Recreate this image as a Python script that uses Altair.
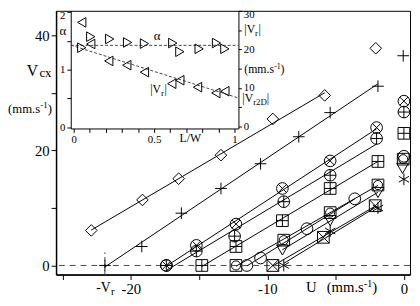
import altair as alt
import pandas as pd

SERIF = "Liberation Serif"

# ---------------- main chart data (U, Vcx) ----------------
series_names = ["diamond", "plus", "circle_x", "circle_plus", "square_plus",
                "square_circle", "circle", "tri_down", "square_x", "asterisk"]

diamond_u = [-22.9, -19.15, -16.5, -13.4, -9.6, -5.8]
diamond_v = [6.1, 11.4, 15.1, 19.2, 25.5, 29.6]
plus_u = [-21.9, -19.2, -16.3, -13.4, -10.5, -7.7, -5.4, -1.9]
plus_v = [0.0, 3.3, 9.1, 13.4, 17.7, 22.4, 26.6, 31.2]
circle_x_u = [-17.4, -15.2, -12.3, -8.9, -5.4, -2.0]
circle_x_v = [0.0, 3.5, 7.2, 13.4, 18.2, 24.0]
circle_plus_u = [-17.4, -15.2, -12.4, -8.8, -5.4, -2.0]
circle_plus_v = [0.0, 2.5, 5.1, 11.1, 15.7, 22.1]
square_plus_u = [-14.8, -12.3, -8.9, -5.4, -1.9]
square_plus_v = [0.0, 3.3, 7.8, 13.4, 18.1]
square_circle_u = [-12.3, -8.8, -5.4, -1.9]
square_circle_v = [0.0, 4.4, 9.2, 14.0]
circle_u = [-11.5, -10.5, -7.1, -3.6]
circle_v = [0.0, 1.3, 6.4, 11.6]
tri_down_u = [-8.9, -5.4, -1.9]
tri_down_v = [2.7, 7.8, 12.7]
square_x_u = [-9.6, -5.9, -2.1]
square_x_v = [0.0, 4.9, 10.4]
asterisk_u = [-8.8, -5.4, -1.9]
asterisk_v = [0.0, 6.0, 10.0]

# points not used in the fits
outlier_series = ["diamond", "plus", "circle_x", "circle_plus", "square_plus",
                  "circle", "square_circle", "tri_down", "asterisk"]
outlier_u = [-2.06, -0.05, 0.0, 0.0, 0.0, 0.0, -0.05, -0.1, 0.0]
outlier_v = [37.8, 36.5, 28.6, 26.7, 23.0, 19.0, 18.5, 16.9, 15.0]

# ---------------- inset data ----------------
alpha_lw = [0.05, 0.106, 0.224, 0.335, 0.44, 0.616, 0.66, 0.78, 0.888, 0.94]
alpha_val = [1.38, 1.57, 1.53, 1.47, 1.45, 1.46, 1.31, 1.36, 1.46, 1.36]
vr_lw = [0.05, 0.106, 0.218, 0.33, 0.44, 0.61, 0.66, 0.77, 0.884, 0.94]
vr_val = [27.0, 21.4, 17.0, 15.9, 14.1, 11.1, 12.0, 10.2, 8.7, 9.15]
fit_lw = [-0.018, 1.024]
alpha_fit = [1.42, 1.42]
vr_fit = [21.1, 7.4]

# ---------------- tables ----------------
series_u = [diamond_u, plus_u, circle_x_u, circle_plus_u, square_plus_u,
            square_circle_u, circle_u, tri_down_u, square_x_u, asterisk_u]
series_v = [diamond_v, plus_v, circle_x_v, circle_plus_v, square_plus_v,
            square_circle_v, circle_v, tri_down_v, square_x_v, asterisk_v]
rows = []
for name, us, vs in zip(series_names, series_u, series_v):
    for u, v in zip(us, vs):
        rows.append({"series": name, "U": u, "V": v})
fit_df = pd.DataFrame(rows)
out_df = pd.DataFrame({"series": outlier_series, "U": outlier_u, "V": outlier_v})
pts_df = pd.concat([fit_df, out_df], ignore_index=True)

alpha_df = pd.DataFrame({"LW": alpha_lw, "a": alpha_val})
vr_df = pd.DataFrame({"LW": vr_lw, "vr": vr_val})
alpha_fit_df = pd.DataFrame({"LW": fit_lw, "a": alpha_fit})
vr_fit_df = pd.DataFrame({"LW": fit_lw, "vr": vr_fit})

# ---------------- marker shapes ----------------
C = "M1,0A1,1,0,1,1,-1,0A1,1,0,1,1,1,0Z"
SQ = "M-1,-1L1,-1L1,1L-1,1Z"
PLUS = "M-1,0L1,0M0,-1L0,1"
XX = "M-0.71,-0.71L0.71,0.71M-0.71,0.71L0.71,-0.71"
shapes = ["diamond", PLUS, C + XX, C + PLUS, SQ + PLUS,
          SQ + "M0.78,0A0.78,0.78,0,1,1,-0.78,0A0.78,0.78,0,1,1,0.78,0Z",
          "circle", "triangle-down", SQ + "M-1,-1L1,1M-1,1L1,-1",
          "M0,-1L0,1M-0.87,-0.5L0.87,0.5M-0.87,0.5L0.87,-0.5"]
sizes = [140, 144, 105, 105, 100, 100, 115, 110, 115, 130]

W, H = 361, 269
xs = alt.Scale(domain=[-25.48, 0.45], nice=False, zero=False)
ys = alt.Scale(domain=[-1.59, 44.32], nice=False, zero=False)
ixs = alt.Scale(domain=[-0.0183, 1.0244], range=[15, 186], nice=False, zero=False)
ias = alt.Scale(domain=[-0.017, 2.017], range=[120, 0], nice=False, zero=False)
ivs = alt.Scale(domain=[-0.51, 30.0], range=[120, 0], nice=False, zero=False)

ax_common = dict(grid=False, title=None, labelFont=SERIF, labelColor="black",
                 domainColor="black", tickColor="black", labelFlush=False,
                 labelOverlap=False)

main_x_axis = alt.Axis(orient="bottom", values=[-25, -20, -15, -10, -5, 0],
                       labelExpr="datum.value % 10 == 0 ? (datum.value < 0 ? '-' + abs(datum.value) : '' + datum.value) : ''",
                       tickSize=5, labelPadding=2, labelFontSize=15, domainWidth=1.5,
                       **ax_common)
main_y_axis = alt.Axis(orient="left", values=[0, 10, 20, 30, 40],
                       labelExpr="datum.value % 20 == 0 ? '' + datum.value : ''",
                       tickSize=5, labelPadding=2, labelFontSize=15, domainWidth=1.5,
                       **ax_common)
inset_x_axis = alt.Axis(orient="bottom", offset=-149,
                        values=[0, 0.1, 0.2, 0.3, 0.4, 0.5, 0.6, 0.7, 0.8, 0.9, 1.0],
                        labelExpr="datum.value == 0 ? '0' : (datum.value == 0.5 ? '0.5' : (datum.value == 1 ? '1' : ''))",
                        tickSize=4, labelPadding=1, labelFontSize=11, **ax_common)
inset_a_axis = alt.Axis(orient="left", offset=-15, values=[0, 0.5, 1, 1.5, 2],
                        labelExpr="datum.value % 1 == 0 ? '' + datum.value : ''",
                        labelOffset={"condition": {"test": "datum.value == 2", "value": 4}, "value": 0},
                        tickSize=4, labelPadding=2, labelFontSize=11, **ax_common)
inset_v_axis = alt.Axis(orient="right", offset=-175, values=[0, 5, 10, 15, 20, 25, 30],
                        labelExpr="datum.value % 10 == 0 ? '' + datum.value : ''",
                        labelOffset={"condition": {"test": "datum.value == 30", "value": 4}, "value": 0},
                        tickSize=3, labelPadding=2, labelFontSize=11, **ax_common)

layers = []

# zero dashed line and -Vr marker
layers.append(alt.Chart(alt.Data(values=[{}])).mark_rule(color="#444", strokeDash=[6, 5], strokeWidth=1).encode(
    y=alt.YDatum(datum=0, scale=ys, axis=None, type="quantitative")))
layers.append(alt.Chart(alt.Data(values=[{}])).mark_rule(color="#444", strokeDash=[4, 3], strokeWidth=1).encode(
    x=alt.XDatum(datum=-21.9, scale=xs, axis=None, type="quantitative"),
    y=alt.YDatum(datum=-1.59, scale=ys, axis=None, type="quantitative"),
    y2=alt.Y2Datum(datum=2.3)))

# fit lines
layers.append(alt.Chart(fit_df).transform_regression("U", "V", groupby=["series"]).mark_line(
    color="black", strokeWidth=1).encode(
    x=alt.X("U:Q", scale=xs, axis=None),
    y=alt.Y("V:Q", scale=ys, axis=None),
    detail="series:N"))

# points
layers.append(alt.Chart(pts_df).mark_point(filled=False, color="black", strokeWidth=1, opacity=1).encode(
    x=alt.X("U:Q", scale=xs, axis=main_x_axis),
    y=alt.Y("V:Q", scale=ys, axis=main_y_axis),
    shape=alt.Shape("series:N", scale=alt.Scale(domain=series_names, range=shapes), legend=None),
    size=alt.Size("series:N", scale=alt.Scale(domain=series_names, range=sizes), legend=None)))

# inset fits
layers.append(alt.Chart(alpha_fit_df).mark_line(color="#444", strokeDash=[3, 2], strokeWidth=1).encode(
    x=alt.X("LW:Q", scale=ixs, axis=None), y=alt.Y("a:Q", scale=ias, axis=None)))
layers.append(alt.Chart(vr_fit_df).mark_line(color="#444", strokeDash=[3, 2], strokeWidth=1).encode(
    x=alt.X("LW:Q", scale=ixs, axis=None), y=alt.Y("vr:Q", scale=ivs, axis=None)))

# inset points
layers.append(alt.Chart(alpha_df).mark_point(shape="triangle-right", filled=False, color="black",
                                            strokeWidth=1, opacity=1, size=95).encode(
    x=alt.X("LW:Q", scale=ixs, axis=inset_x_axis),
    y=alt.Y("a:Q", scale=ias, axis=inset_a_axis)))
layers.append(alt.Chart(vr_df).mark_point(shape="triangle-left", filled=False, color="black",
                                         strokeWidth=1, opacity=1, size=95).encode(
    x=alt.X("LW:Q", scale=ixs, axis=None),
    y=alt.Y("vr:Q", scale=ivs, axis=inset_v_axis)))


def txt(s, x, y, size, align="left", baseline="alphabetic"):
    return alt.Chart(alt.Data(values=[{}])).mark_text(
        text=s, font=SERIF, fontSize=size, align=align, baseline=baseline, color="black"
    ).encode(x=alt.value(x), y=alt.value(y))


# main axis titles
layers += [
    txt("V", -30, 66, 16), txt("cx", -17, 68, 13),
    txt("(mm.s", -49, 104, 13), txt("-1", -16, 99, 9), txt(")", -8.5, 104, 13),
    txt("-V", 41, 287, 14), txt("r", 56, 290, 11),
    txt("U", 255, 287, 15),
    txt("(mm.s", 276, 287, 15), txt("-1", 314, 282, 10), txt(")", 322.5, 287, 15),
]
# inset texts
layers += [
    txt("\u03b1", 7, 21, 13, align="center", baseline="middle"),
    txt("\u03b1", 103, 26, 13, align="center", baseline="middle"),
    txt("|V", 96, 84, 12), txt("r", 107, 87, 9), txt("|", 110.5, 84, 12),
    txt("|V", 192, 23, 12), txt("r", 203, 26, 9), txt("|", 206.5, 23, 12),
    txt("(mm.s", 192, 63, 12), txt("-1", 222.5, 59, 8), txt(")", 229, 63, 12),
    txt("|V", 190, 93, 12), txt("r2D", 201, 96, 9), txt("|", 215, 93, 12),
    txt("L/W", 126, 134, 12),
]

chart = alt.layer(*layers).resolve_scale(x="independent", y="independent").properties(
    width=W, height=H,
    padding={"left": 49, "top": 0, "right": 2, "bottom": 21},
    autosize=alt.AutoSizeParams(type="none"),
    background="white",
).configure_view(stroke="black", strokeWidth=1)

chart.save("out.html", embed_options={"renderer": "svg", "actions": False})
